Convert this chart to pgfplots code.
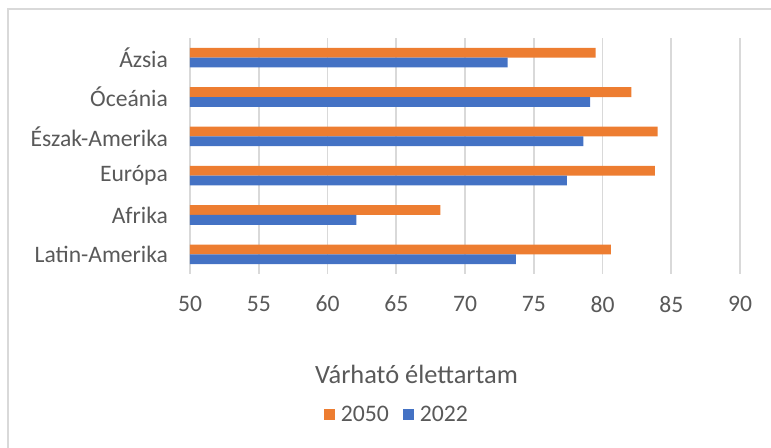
\documentclass[border=0pt]{standalone}
\usepackage{pgfplots}
\pgfplotsset{compat=1.18}
\usepackage{fontspec}
\setmainfont{Carlito}
\definecolor{cOrange}{HTML}{ED7D31}
\definecolor{cBlue}{HTML}{4472C4}
\definecolor{cGrid}{HTML}{D9D9D9}
\definecolor{cText}{HTML}{595959}
\begin{document}
\begin{tikzpicture}
\useasboundingbox (0,0) rectangle (385.5pt,224pt);
\draw[cGrid, line width=1pt] (4pt,0pt) -- (4pt,219.5pt) -- (386pt,219.5pt);
\begin{axis}[
  at={(95pt,87pt)}, anchor=south west,
  scale only axis, width=275pt, height=118pt,
  xmin=50, xmax=90, ymin=-0.5, ymax=5.5,
  xtick={50,55,...,90},
  ytick={0,1,2,3,4,5},
  yticklabels={Latin-Amerika,Afrika,Európa,Észak-Amerika,Óceánia,Ázsia},
  major tick length=0pt,
  xmajorgrids, grid style={cGrid, line width=0.8pt},
  axis line style={draw=none},
  /pgf/number format/assume math mode=true,
  ticklabel style={font=\fontsize{11.8pt}{13pt}\selectfont, text=cText},
  xticklabel style={yshift=-7.5pt},
  yticklabel style={xshift=-7.5pt},
  xbar, bar width=4.9pt,
  legend style={at={(0.378,-0.597)}, anchor=center, draw=none, fill=none,
    legend columns=2, font=\fontsize{11.85pt}{13pt}\selectfont, text=cText,
    /tikz/every even column/.append style={column sep=5pt}},
  legend image code/.code={\fill[#1] (0pt,-2.75pt) rectangle (5.5pt,2.75pt); \path (6.5pt,0pt);},
  legend cell align=left,
]
\addplot[fill=cOrange, draw=none, bar shift=2.45pt] coordinates {
  (80.6,0) (68.2,1) (83.8,2) (84.0,3) (82.1,4) (79.5,5)};
\addplot[fill=cBlue, draw=none, bar shift=-2.45pt] coordinates {
  (73.7,0) (62.1,1) (77.4,2) (78.6,3) (79.1,4) (73.1,5)};
\legend{2050,2022}
\end{axis}
\node[anchor=base, text=cText, font=\fontsize{13.2pt}{15pt}\selectfont] at (208.25pt,32pt) {Várható élettartam};
\end{tikzpicture}
\end{document}
